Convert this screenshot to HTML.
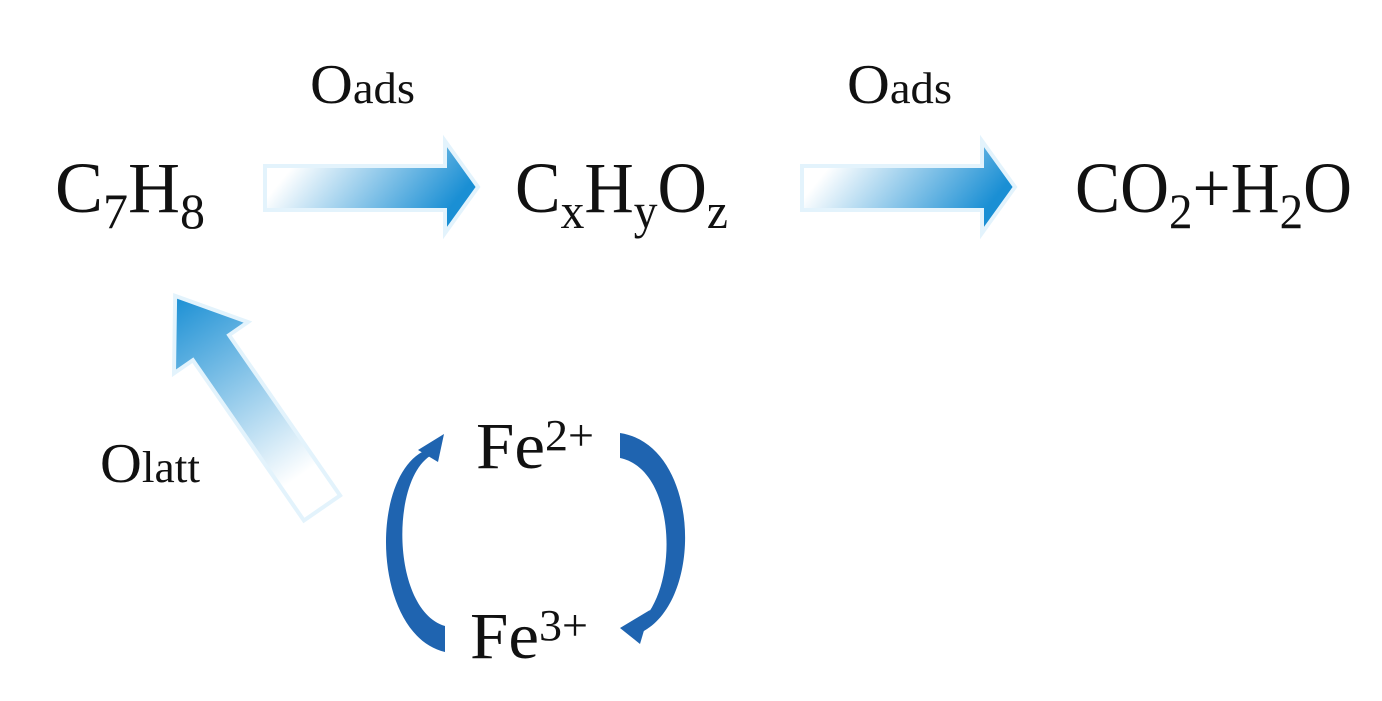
<!DOCTYPE html>
<html><head><meta charset="utf-8"><style>
html,body{margin:0;padding:0;background:#fff;}
svg{display:block}
text{font-family:"Liberation Serif",serif;fill:#111}
</style></head><body>
<svg width="1382" height="701" viewBox="0 0 1382 701">
<defs>
<linearGradient id="g" x1="0" y1="0" x2="1" y2="0.35">
<stop offset="0.2" stop-color="#ffffff"/>
<stop offset="1" stop-color="#1a8fd4"/>
</linearGradient>
<linearGradient id="gd" x1="0" y1="1" x2="0" y2="0">
<stop offset="0.15" stop-color="#ffffff"/>
<stop offset="1" stop-color="#1a8fd4"/>
</linearGradient>
</defs>
<path d="M265,166 L445,166 L445,141 L478,187 L445,233 L445,210 L265,210 Z" fill="url(#g)" stroke="#e3f3fc" stroke-width="4"/>
<path d="M802,166 L982,166 L982,141 L1015,187 L982,233 L982,210 L802,210 Z" fill="url(#g)" stroke="#e3f3fc" stroke-width="4"/>
<g transform="translate(322,508) rotate(-34.7)">
<path d="M-22,0 L-22,-195 L-45,-195 L0,-258 L45,-195 L22,-195 L22,0 Z" fill="url(#gd)" stroke="#e3f3fc" stroke-width="4"/>
</g>
<path d="M445,652 C372,635 368,475 426,450 L430,456 C390,482 392,610 445,626 Z" fill="#1f64b0"/>
<path d="M418,450 L444,434 L438,462 Z" fill="#1f64b0"/>
<path d="M620,433 C700,445 705,600 642,632 L636,626 C680,594 678,470 620,458 Z" fill="#1f64b0"/>
<path d="M620,628 L650,610 L640,644 Z" fill="#1f64b0"/>
<text x="55" y="212" font-size="72" textLength="150" lengthAdjust="spacingAndGlyphs">C<tspan font-size="50" dy="16">7</tspan><tspan dy="-16">H</tspan><tspan font-size="50" dy="16">8</tspan></text>
<text x="515" y="212" font-size="72" textLength="213" lengthAdjust="spacingAndGlyphs">C<tspan font-size="50" dy="16">x</tspan><tspan dy="-16">H</tspan><tspan font-size="50" dy="16">y</tspan><tspan dy="-16">O</tspan><tspan font-size="50" dy="16">z</tspan></text>
<text x="1075" y="212" font-size="72" textLength="277" lengthAdjust="spacingAndGlyphs">CO<tspan font-size="50" dy="16">2</tspan><tspan dy="-16">+H</tspan><tspan font-size="50" dy="16">2</tspan><tspan dy="-16">O</tspan></text>
<text x="310" y="103" font-size="56" textLength="105" lengthAdjust="spacingAndGlyphs">O<tspan font-size="44">ads</tspan></text>
<text x="847" y="103" font-size="56" textLength="105" lengthAdjust="spacingAndGlyphs">O<tspan font-size="44">ads</tspan></text>
<text x="100" y="482" font-size="56" textLength="100" lengthAdjust="spacingAndGlyphs">O<tspan font-size="44">latt</tspan></text>
<text x="476" y="468" font-size="66" textLength="118" lengthAdjust="spacingAndGlyphs">Fe<tspan font-size="44" dy="-18">2+</tspan></text>
<text x="470" y="658" font-size="66" textLength="118" lengthAdjust="spacingAndGlyphs">Fe<tspan font-size="44" dy="-18">3+</tspan></text>
</svg>
</body></html>
